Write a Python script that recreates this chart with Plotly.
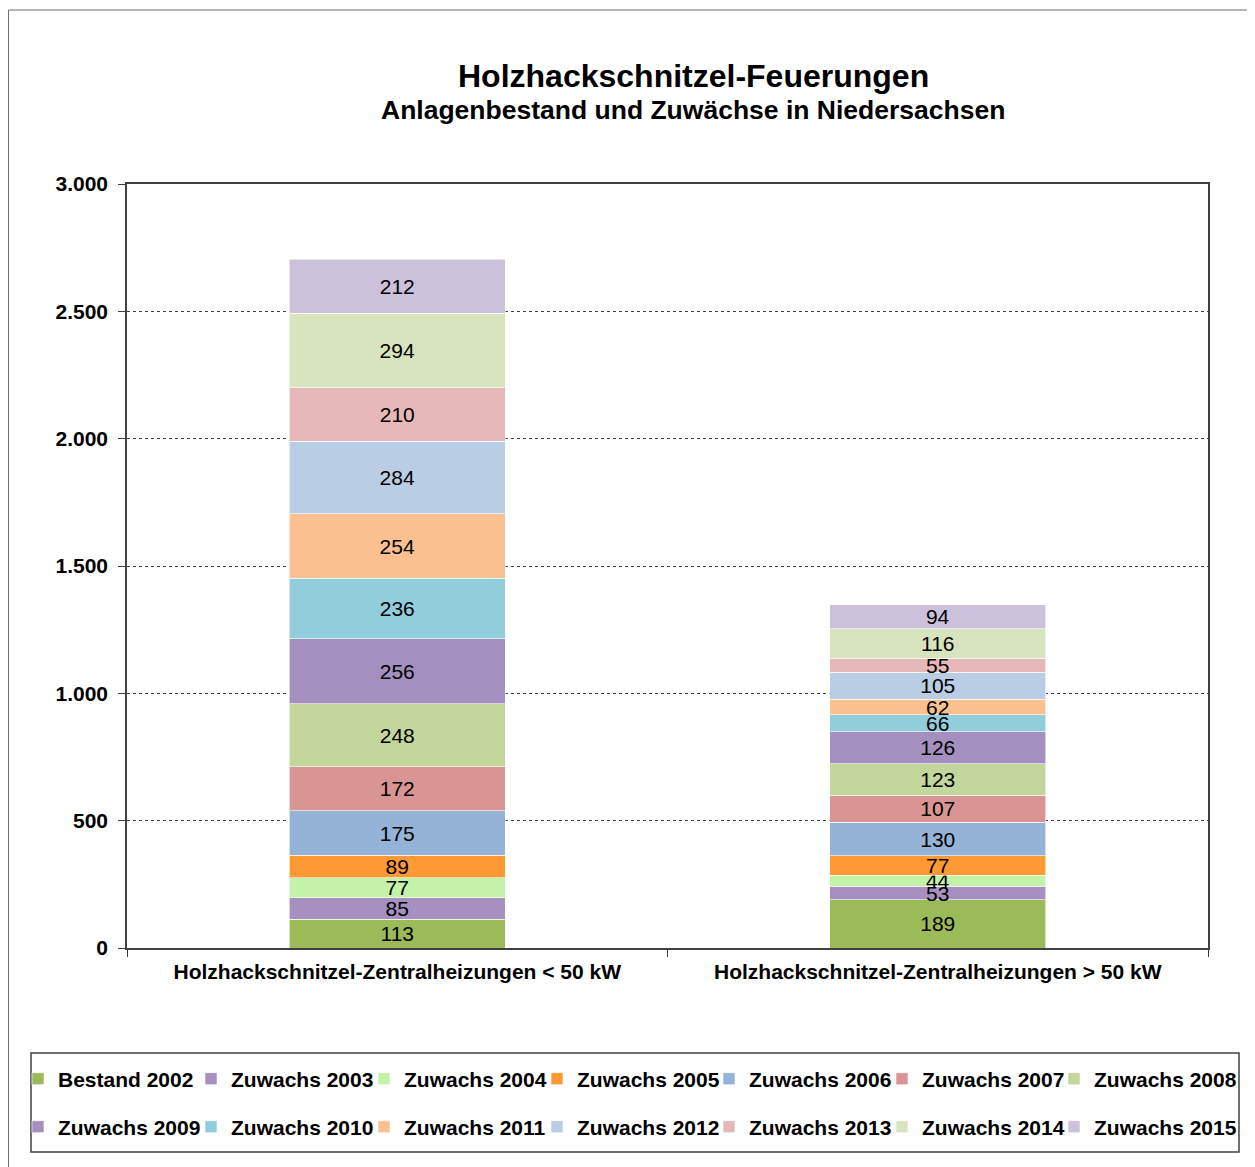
import plotly.graph_objects as go

categories = [
    "Holzhackschnitzel-Zentralheizungen < 50 kW",
    "Holzhackschnitzel-Zentralheizungen > 50 kW",
]
series_names = [
    "Bestand 2002", "Zuwachs 2003", "Zuwachs 2004", "Zuwachs 2005",
    "Zuwachs 2006", "Zuwachs 2007", "Zuwachs 2008", "Zuwachs 2009",
    "Zuwachs 2010", "Zuwachs 2011", "Zuwachs 2012", "Zuwachs 2013",
    "Zuwachs 2014", "Zuwachs 2015",
]
values_under_50 = [113, 85, 77, 89, 175, 172, 248, 256, 236, 254, 284, 210, 294, 212]
values_over_50 = [189, 53, 44, 77, 130, 107, 123, 126, 66, 62, 105, 55, 116, 94]
colors = [
    "#9BBB59", "#A590BF", "#C3F2A8", "#FF9933", "#95B3D7", "#D99594",
    "#C3D69B", "#A390BE", "#92CDDC", "#FAC090", "#B9CDE5", "#E6B9B8",
    "#D7E4BD", "#CCC1DA",
]
y_ticks = [0, 500, 1000, 1500, 2000, 2500, 3000]

FONT = "Liberation Sans, Arial, sans-serif"
OFF = 8  # page body margin
W, H = 1255 - OFF, 1167 - OFF
L, R, T, B = 127 - OFF, 1208 - OFF, 184 - OFF, 948 - OFF  # plot area in figure px


def px_x(page_px):
    return (page_px - OFF - L) / (R - L)


def px_y(page_py):
    return (B - (page_py - OFF)) / (B - T)


# legend grid: 7 columns x 2 rows (page px of where the item text starts / row centre)
legend_text_x = [58, 231, 404, 577, 749, 922, 1094]
legend_row_y = [1079, 1127]

fig = go.Figure()
legend_layouts = {}
for i, name in enumerate(series_names):
    vals = [values_under_50[i], values_over_50[i]]
    key = "legend" if i == 0 else f"legend{i + 1}"
    fig.add_trace(go.Bar(
        x=categories,
        y=vals,
        name=name,
        text=[str(v) for v in vals],
        textposition="inside",
        insidetextanchor="middle",
        textangle=0,
        constraintext="none",
        textfont=dict(family=FONT, size=21, color="black"),
        marker=dict(color=colors[i], line=dict(color="rgba(255,255,255,0.6)", width=1)),
        legend=key,
        hoverinfo="name+y",
    ))
    col, row = i % 7, i // 7
    legend_layouts[key] = dict(
        orientation="h",
        xref="paper", yref="paper",
        xanchor="left", yanchor="middle",
        x=px_x(legend_text_x[col] - 40),
        y=px_y(legend_row_y[row]),
        font=dict(family=FONT, size=21, color="black", weight="bold"),
        bgcolor="rgba(0,0,0,0)",
        borderwidth=0,
    )

fig.update_layout(
    width=W, height=H,
    barmode="stack",
    bargap=0.6,
    separators=",.",
    font=dict(family=FONT, color="black"),
    paper_bgcolor="white",
    plot_bgcolor="white",
    margin=dict(l=L, r=W - R, t=T, b=H - B, autoexpand=False),
    uniformtext=dict(minsize=21, mode="show"),
    xaxis=dict(
        showline=True, linecolor="#404040", linewidth=1.5, mirror=True,
        ticks="outside", tickson="boundaries", ticklen=7, tickcolor="#404040",
        tickfont=dict(family=FONT, size=21, color="black", weight="bold"),
        ticklabelstandoff=4,
        showgrid=False,
    ),
    yaxis=dict(
        range=[0, 3000],
        tickvals=y_ticks,
        tickformat=",d",
        showline=True, linecolor="#404040", linewidth=1.5, mirror=True,
        ticks="outside", ticklen=7, tickcolor="#404040",
        tickfont=dict(family=FONT, size=21, color="black", weight="bold"),
        ticklabelstandoff=6,
        showgrid=True, gridcolor="#404040", griddash="dot", gridwidth=1,
        zeroline=False,
    ),
    annotations=[
        dict(text="<b>Holzhackschnitzel-Feuerungen</b>", xref="paper", yref="paper",
             x=px_x(693), y=px_y(76), xanchor="center", yanchor="middle",
             showarrow=False, font=dict(family=FONT, size=32, color="black")),
        dict(text="<b>Anlagenbestand und Zuwächse in Niedersachsen</b>", xref="paper", yref="paper",
             x=px_x(693), y=px_y(110), xanchor="center", yanchor="middle",
             showarrow=False, font=dict(family=FONT, size=26.5, color="black")),
    ],
    shapes=[
        # outer chart frame
        dict(type="rect", xref="paper", yref="paper",
             x0=px_x(OFF + 0.5), x1=px_x(1280), y0=px_y(10), y1=px_y(1190),
             line=dict(color="#6f6f6f", width=1), layer="below"),
        # legend frame
        dict(type="rect", xref="paper", yref="paper",
             x0=px_x(31), x1=px_x(1239), y0=px_y(1053), y1=px_y(1152),
             line=dict(color="#404040", width=1.5), layer="below"),
    ],
    showlegend=True,
    **legend_layouts,
)

fig.write_html("out.html")
